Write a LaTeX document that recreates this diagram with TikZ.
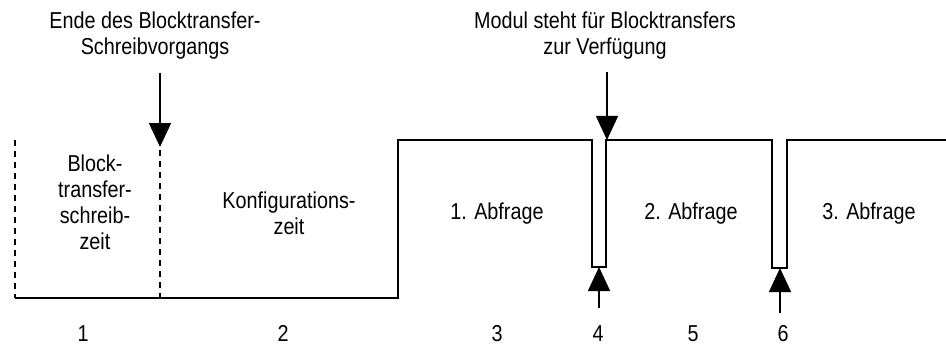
\documentclass[tikz,border=0pt]{standalone}
\usepackage{fontspec}
\setmainfont{Liberation Sans}[FakeStretch=0.86]
\usetikzlibrary{arrows.meta}

\tikzset{
  signal/.style={line width=1.8pt},
  grenze/.style={line width=1.8pt,dash pattern=on 6pt off 5pt},
  pfeil/.style={line width=1.6pt,-{Triangle[width=22pt,length=24pt]}},
  txt/.style={align=center,inner sep=0pt},
  nummer/.style={inner sep=0pt,anchor=base}
}

\begin{document}
\begin{tikzpicture}[x=1pt,y=-1pt,line join=miter,font=\fontsize{23}{26}\selectfont]
\useasboundingbox (0,0) rectangle (946,345);
% Signalverlauf
\coordinate (A) at (15,298);
\coordinate (B) at (160,298);
\coordinate (C) at (398,298);
\coordinate (D) at (398,140);
\coordinate (E) at (592,140);
\coordinate (F) at (592,267);
\coordinate (G) at (606,267);
\coordinate (H) at (606,140);
\coordinate (I) at (772,140);
\coordinate (K) at (772,268);
\coordinate (M) at (787,268);
\coordinate (N) at (787,140);
\coordinate (O) at (946,140);
\draw[signal] (A) -- (C) -- (D) -- (E) -- (F) -- (G) -- (H) -- (I) -- (K) -- (M) -- (N) -- (O);
\draw[grenze] (15,140) -- (A);
\draw[grenze] (160,150) -- (B);
% Beschriftung oben
\node[txt] (ende) at (155,36) {Ende des Blocktransfer-\\Schreibvorgangs};
\node[txt] (modul) at (605,36) {Modul steht für Blocktransfers\\zur Verfügung};
\coordinate (S1) at (160,73);
\coordinate (T1) at (160,147);
\coordinate (S2) at (607,72);
\coordinate (T2) at (607,140);
\draw[pfeil] (S1) -- (T1);
\draw[pfeil] (S2) -- (T2);
% Pfeile unten
\coordinate (S4) at (599,308);
\coordinate (T4) at (599,267);
\coordinate (S6) at (780,313);
\coordinate (T6) at (780,268);
\draw[pfeil] (S4) -- (T4);
\draw[pfeil] (S6) -- (T6);
% Phasen
\node[txt] (schreib) at (95,202) {Block-\\transfer-\\schreib-\\zeit};
\node[txt] (konf) at (289,213) {Konfigurations-\\zeit};
\node[txt] (abf1) at (497,214) {1. Abfrage};
\node[txt] (abf2) at (691,214) {2. Abfrage};
\node[txt] (abf3) at (869,214) {3. Abfrage};
% Nummern
\node[nummer] (n1) at (83,341) {1};
\node[nummer] (n2) at (283,341) {2};
\node[nummer] (n3) at (497,341) {3};
\node[nummer] (n4) at (598,341) {4};
\node[nummer] (n5) at (693,341) {5};
\node[nummer] (n6) at (783,341) {6};
\end{tikzpicture}
\end{document}
